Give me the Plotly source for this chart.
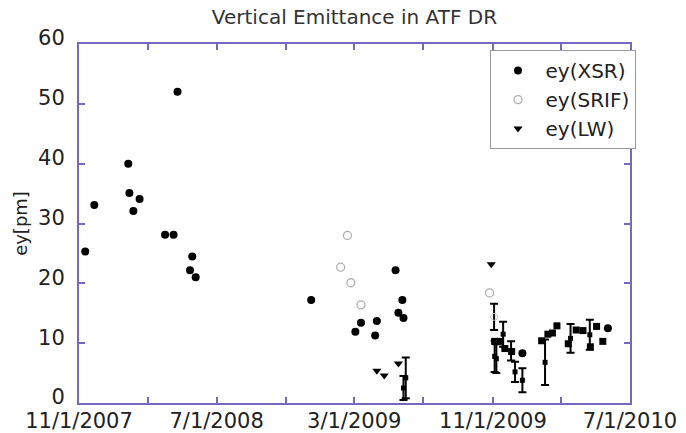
import plotly.graph_objects as go

# ey measured by X-ray synchrotron radiation monitor
xsr_dates = ["2007-11-12", "2007-11-28", "2008-01-27", "2008-01-29", "2008-02-05",
             "2008-02-16", "2008-04-01", "2008-04-16", "2008-04-23", "2008-05-15",
             "2008-05-19", "2008-05-25", "2008-12-15", "2009-03-03", "2009-03-13",
             "2009-04-07", "2009-04-10", "2009-05-13", "2009-05-18", "2009-05-25",
             "2009-05-27", "2009-12-23", "2010-05-23"]
xsr_vals = [25.3, 33.1, 40.0, 35.1, 32.1, 34.1, 28.1, 28.1, 52.0, 22.2, 24.5, 21.0,
            17.2, 11.9, 13.4, 11.3, 13.7, 22.2, 15.1, 17.2, 14.2, 8.3, 12.5]

# ey measured by SR interferometer
srif_dates = ["2009-02-05", "2009-02-17", "2009-02-23", "2009-03-13", "2009-10-26"]
srif_vals = [22.7, 28.0, 20.1, 16.4, 18.4]
srif_err_dates = ["2009-11-03"]
srif_err_vals = [14.4]
srif_err = [2.2]

# ey measured by laser wire
lw_dates = ["2009-04-10", "2009-04-23", "2009-05-18", "2009-10-29"]
lw_vals = [5.4, 4.6, 6.6, 23.2]

# points with error bars
eb_dates = ["2009-05-27", "2009-05-31", "2009-11-04", "2009-11-07", "2009-11-19",
            "2009-12-03", "2009-12-10", "2009-12-23", "2010-02-01", "2010-03-18",
            "2010-04-21"]
eb_vals = [2.5, 4.2, 7.8, 7.4, 11.5, 8.7, 5.2, 3.8, 6.8, 10.8, 11.4]
eb_err = [2.0, 3.4, 2.6, 2.4, 2.1, 1.6, 1.7, 2.0, 3.8, 2.4, 2.5]

# additional points drawn as squares
sq_dates = ["2009-11-04", "2009-11-13", "2009-11-22", "2009-12-04", "2010-01-26",
            "2010-02-06", "2010-02-14", "2010-02-22", "2010-03-14", "2010-03-28",
            "2010-04-09", "2010-04-22", "2010-05-03", "2010-05-14"]
sq_vals = [10.3, 10.3, 9.1, 8.6, 10.4, 11.5, 11.7, 12.9, 9.9, 12.2, 12.1, 9.4, 12.8, 10.3]

tick_dates = ["2007-11-01", "2008-03-01", "2008-07-01", "2008-11-01", "2009-03-01",
              "2009-07-01", "2009-11-01", "2010-03-01", "2010-07-01"]
tick_labels = ["11/1/2007", "", "7/1/2008", "", "3/1/2009", "", "11/1/2009", "", "7/1/2010"]
y_ticks = [0, 10, 20, 30, 40, 50, 60]

FONT = "DejaVu Sans"
FRAME = "#7867c0"

fig = go.Figure()

fig.add_trace(go.Scatter(
    x=eb_dates, y=eb_vals, mode="markers", showlegend=False,
    marker=dict(symbol="square", size=5, color="black"),
    error_y=dict(type="data", array=eb_err, visible=True, color="black",
                 thickness=2, width=4),
))
fig.add_trace(go.Scatter(
    x=srif_err_dates, y=srif_err_vals, mode="markers", showlegend=False,
    marker=dict(symbol="circle-open", size=7, color="#c8c8c8", line=dict(width=1)),
    error_y=dict(type="data", array=srif_err, visible=True, color="black",
                 thickness=2, width=4),
))
fig.add_trace(go.Scatter(
    x=sq_dates, y=sq_vals, mode="markers", showlegend=False,
    marker=dict(symbol="square", size=7, color="black"),
))
fig.add_trace(go.Scatter(
    x=xsr_dates, y=xsr_vals, mode="markers", name="ey(XSR)",
    marker=dict(symbol="circle", size=8, color="black"),
))
fig.add_trace(go.Scatter(
    x=srif_dates, y=srif_vals, mode="markers", name="ey(SRIF)",
    marker=dict(symbol="circle-open", size=8, color="#b0b0b0", line=dict(width=1.3)),
))
fig.add_trace(go.Scatter(
    x=lw_dates, y=lw_vals, mode="markers", name="ey(LW)",
    marker=dict(symbol="triangle-down", size=8, color="black"),
))

fig.update_layout(
    width=686, height=433,
    margin=dict(l=79, r=56, t=44, b=30, autoexpand=False),
    paper_bgcolor="white", plot_bgcolor="white",
    font=dict(family=FONT, size=21, color="#222"),
    title=dict(text="Vertical Emittance in ATF DR", x=0.5, xref="paper",
               y=1 - 17 / 433, yref="container", yanchor="middle",
               font=dict(family=FONT, size=20, color="#333")),
    showlegend=True,
    legend=dict(x=1.01, xanchor="right", y=0.983, yanchor="top",
                bgcolor="white", bordercolor="#999", borderwidth=1,
                font=dict(family=FONT, size=20, color="#222"),
                itemwidth=45, tracegroupgap=0),
    xaxis=dict(
        type="date", range=["2007-11-01", "2010-07-01"],
        tickmode="array", tickvals=tick_dates, ticktext=tick_labels,
        ticks="inside", ticklen=6, tickwidth=2, tickcolor=FRAME,
        showline=True, linecolor=FRAME, linewidth=2, mirror="ticks",
        showgrid=False, zeroline=False, automargin=False,
        tickfont=dict(family=FONT, size=21, color="#222"),
        ticklabelstandoff=-2,
    ),
    yaxis=dict(
        range=[0, 60], tickmode="array", tickvals=y_ticks,
        ticks="inside", ticklen=6, tickwidth=2, tickcolor=FRAME,
        showline=True, linecolor=FRAME, linewidth=2, mirror="ticks",
        showgrid=False, zeroline=False, automargin=False,
        tickfont=dict(family=FONT, size=21, color="#222"),
        ticklabelstandoff=8, ticklabelshift=-6,
        title=dict(text="ey[pm]", standoff=6,
                   font=dict(family=FONT, size=18, color="#222")),
    ),
)

fig.write_html("out.html")
